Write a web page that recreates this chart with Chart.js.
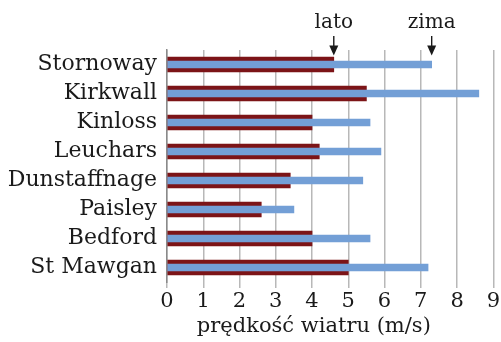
<!DOCTYPE html>
<html>
<head>
<meta charset="utf-8">
<script src="https://cdn.jsdelivr.net/npm/chart.js@4/dist/chart.umd.min.js"></script>
<style>
  html, body { margin: 0; padding: 0; background: #ffffff; }
  canvas { display: block; }
</style>
</head>
<body>
<canvas id="chart" width="501" height="342"></canvas>
<script>
// Stacje pomiarowe i średnia prędkość wiatru (m/s)
const stations = ['Stornoway', 'Kirkwall', 'Kinloss', 'Leuchars', 'Dunstaffnage', 'Paisley', 'Bedford', 'St Mawgan'];
const summerWind = [4.6, 5.5, 4.0, 4.2, 3.4, 2.6, 4.0, 5.0];   // lato
const winterWind = [7.3, 8.6, 5.6, 5.9, 5.4, 3.5, 5.6, 7.2];   // zima
const seriesNames = ['lato', 'zima'];
const axisTitle = 'prędkość wiatru (m/s)';
const xTicks = [0, 1, 2, 3, 4, 5, 6, 7, 8, 9];

const FONT = '"DejaVu Serif", "Liberation Serif", serif';

// Podpisy serii ze strzałkami wskazującymi koniec słupków pierwszej stacji
const seriesPointers = {
  id: 'seriesPointers',
  afterDraw(chart) {
    const { ctx } = chart;
    const x = chart.scales.x;
    const y = chart.scales.y;
    const firstY = y.getPixelForValue(0);
    const tips = [
      { text: seriesNames[0], value: summerWind[0] },
      { text: seriesNames[1], value: winterWind[0] }
    ];
    ctx.save();
    ctx.fillStyle = '#1a1a1a';
    ctx.strokeStyle = '#1a1a1a';
    ctx.font = '20px ' + FONT;
    ctx.textAlign = 'center';
    ctx.textBaseline = 'alphabetic';
    tips.forEach(t => {
      const px = x.getPixelForValue(t.value);
      ctx.fillText(t.text, px, 28);
      const tipY = firstY - 9;
      ctx.lineWidth = 1.4;
      ctx.beginPath();
      ctx.moveTo(px, 36);
      ctx.lineTo(px, tipY - 8);
      ctx.stroke();
      ctx.beginPath();
      ctx.moveTo(px - 4.5, tipY - 10);
      ctx.lineTo(px + 4.5, tipY - 10);
      ctx.lineTo(px, tipY);
      ctx.closePath();
      ctx.fill();
    });
    // tytuł osi wartości
    ctx.font = '21px ' + FONT;
    ctx.textBaseline = 'middle';
    ctx.fillText(axisTitle, x.getPixelForValue(4.05), 327);
    ctx.restore();
  }
};

new Chart(document.getElementById('chart'), {
  type: 'bar',
  data: {
    labels: stations,
    datasets: [
      {
        label: seriesNames[0],
        data: summerWind,
        backgroundColor: '#7c1417',
        barThickness: 15,
        grouped: false,
        order: 1
      },
      {
        label: seriesNames[1],
        data: winterWind,
        backgroundColor: '#739fd6',
        barThickness: 7,
        grouped: false,
        order: 0
      }
    ]
  },
  options: {
    indexAxis: 'y',
    responsive: false,
    animation: false,
    devicePixelRatio: 1,
    layout: { padding: { top: 50, right: 7, left: 0, bottom: 0 } },
    plugins: {
      legend: { display: false },
      tooltip: { enabled: false }
    },
    scales: {
      x: {
        min: 0,
        max: 9,
        afterBuildTicks(scale) { scale.ticks = xTicks.map(v => ({ value: v })); },
        afterFit(scale) { scale.height = 60; },
        grid: { color: '#b8b8b8', lineWidth: 1.5, tickLength: 6, drawTicks: true },
        border: { display: false },
        ticks: { color: '#1a1a1a', font: { family: FONT, size: 21 }, padding: 1, autoSkip: false, maxRotation: 0 }
      },
      y: {
        afterFit(scale) { scale.width = 167; },
        grid: { display: false, drawTicks: false },
        border: { display: true, color: '#8a8a8a', width: 1.5 },
        ticks: { color: '#1a1a1a', font: { family: FONT, size: 22 }, padding: 10, autoSkip: false }
      }
    }
  },
  plugins: [seriesPointers]
});
</script>
</body>
</html>
